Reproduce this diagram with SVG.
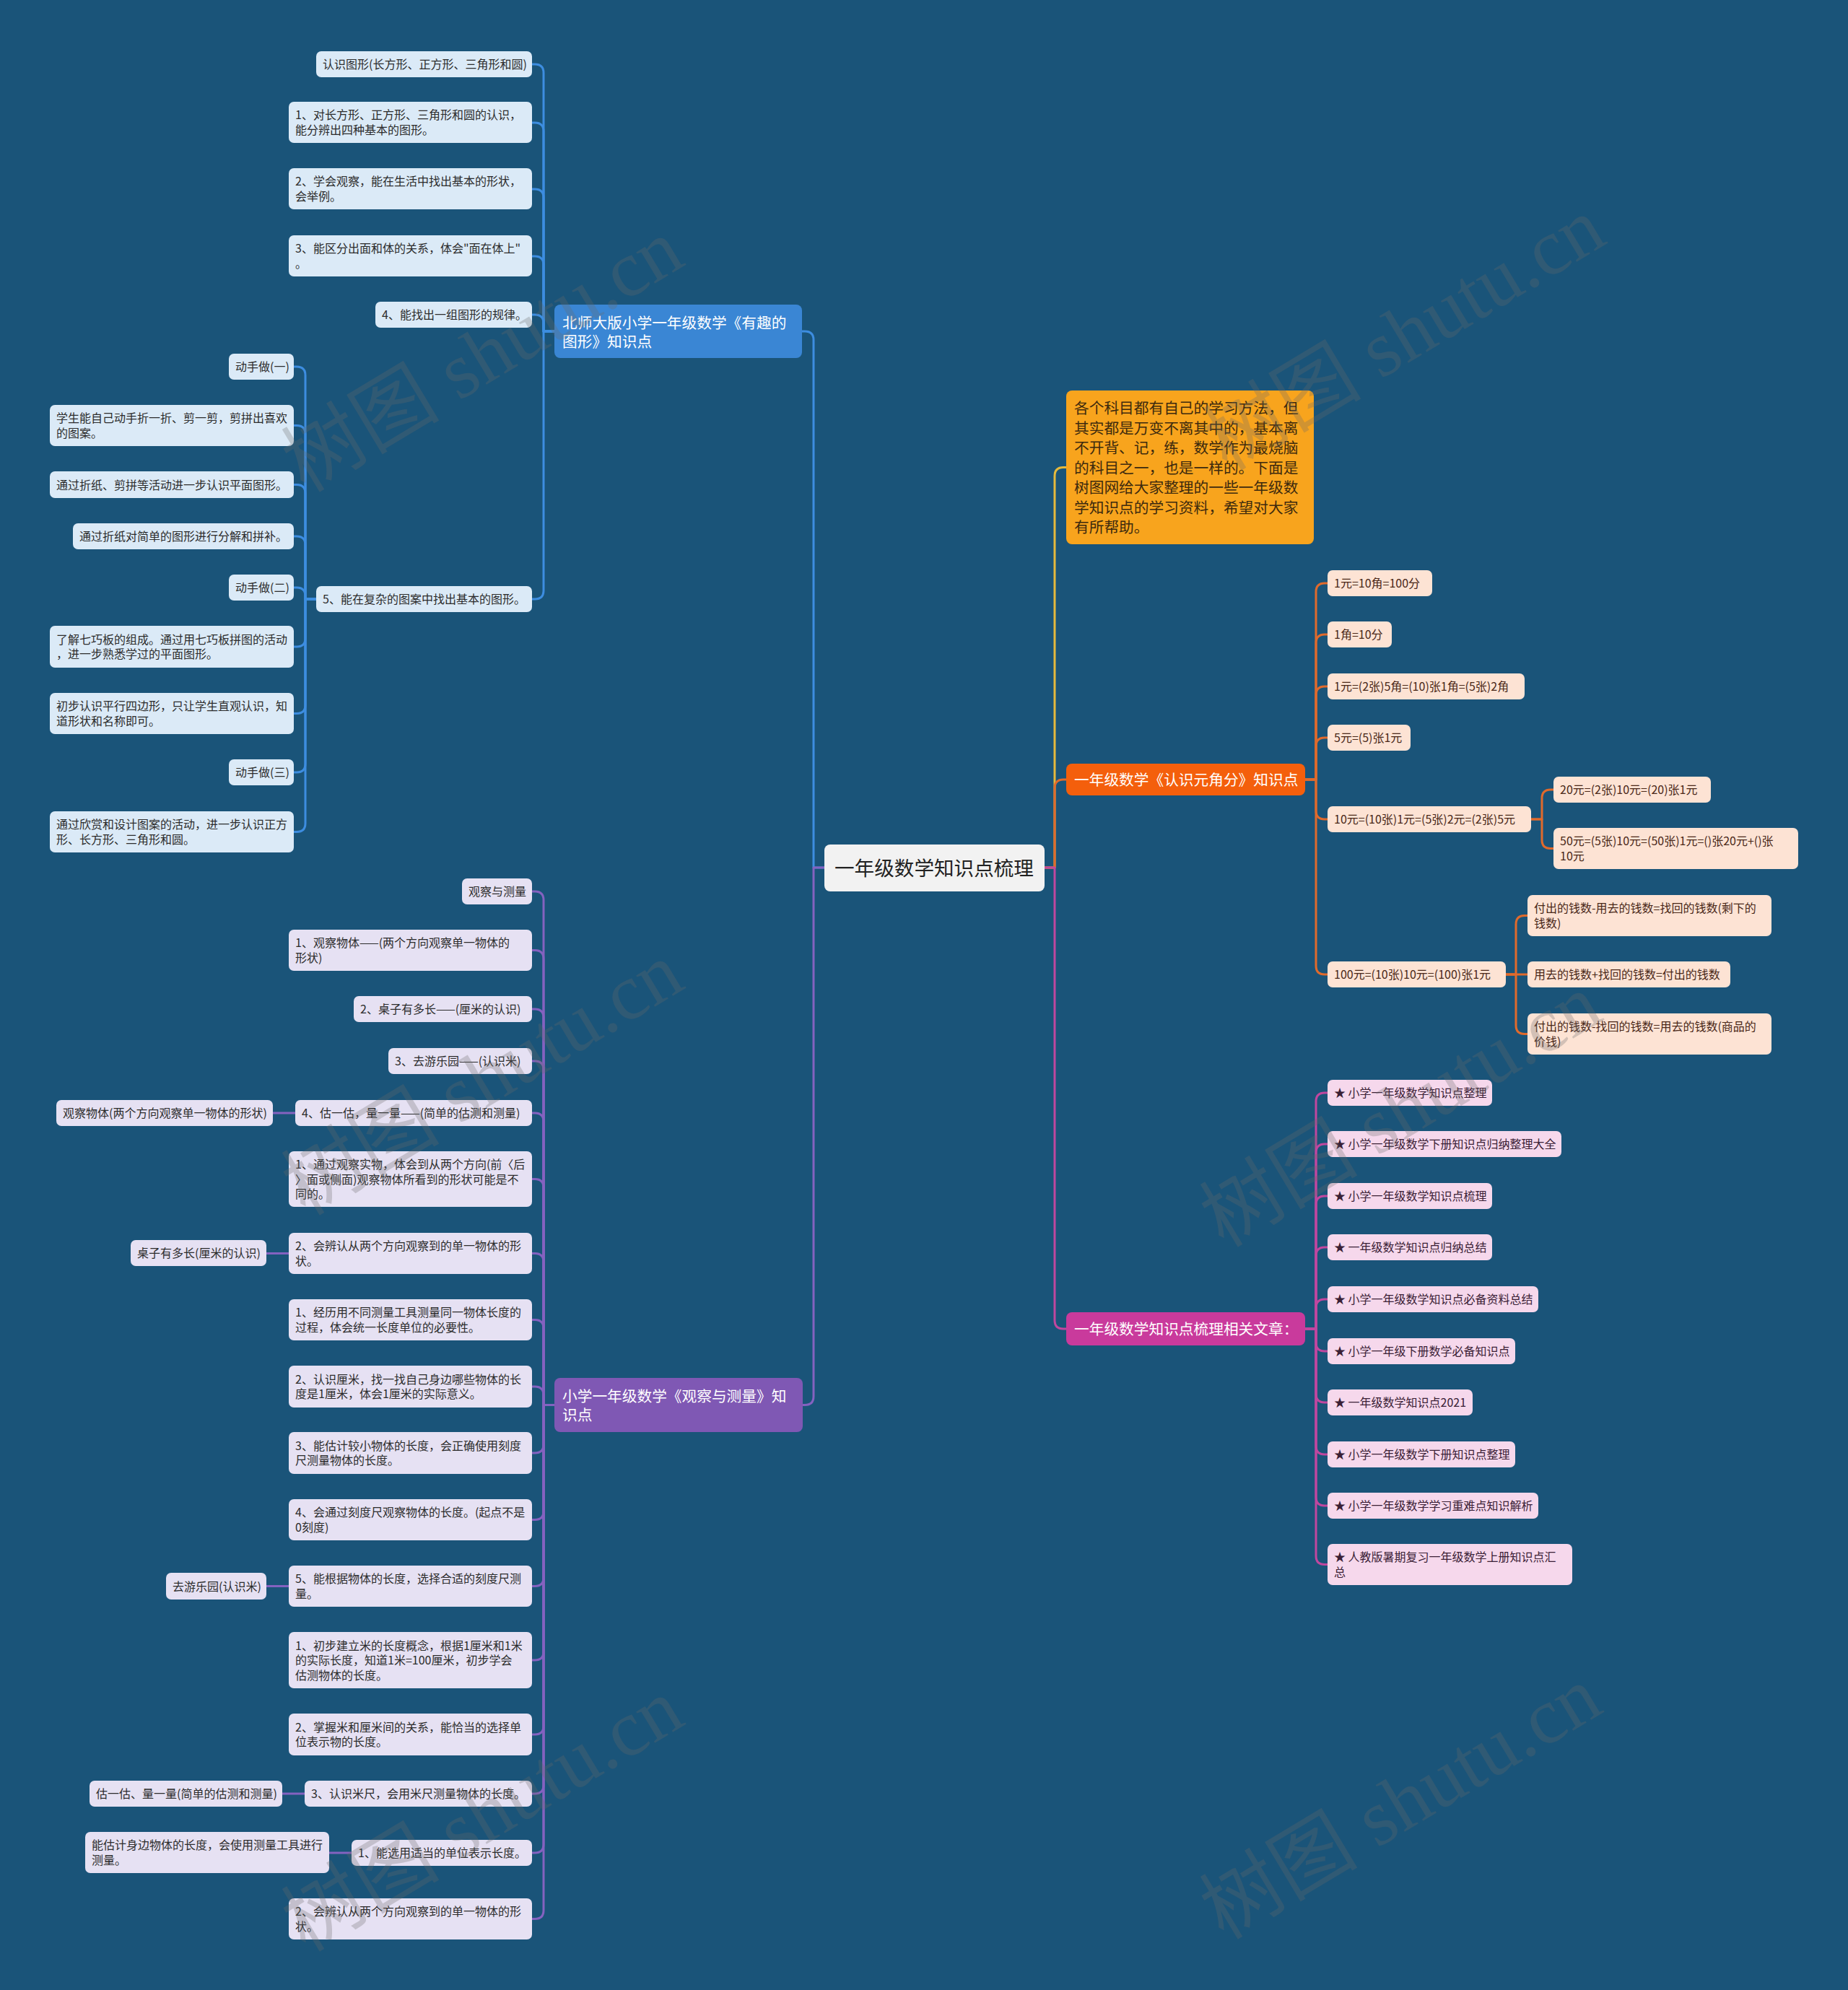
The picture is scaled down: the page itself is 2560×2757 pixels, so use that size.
<svg xmlns="http://www.w3.org/2000/svg" width="2560" height="2757" viewBox="0 0 2560 2757">
<style>
text{font-family:"Noto Sans CJK SC","Microsoft YaHei","Liberation Sans",sans-serif;}
.s{font-size:16px;}
.tp{font-size:20.7px;fill:#ffffff;}
.cl{fill:none;stroke-width:3;stroke-linecap:round;stroke-linejoin:round;}
.cb{stroke:#3d8de0;}
.cp{stroke:#8462c0;}
.cy{stroke:#e5b93c;}
.co{stroke:#e06a2c;}
.cm{stroke:#c0479f;}
.fb{fill:#dbeaf7;}
.fp{fill:#e6e1f3;}
.fo{fill:#fde3d4;}
.fm{fill:#f6d8ec;}
.tb{fill:#2c2c2c;}
.to{fill:#4a2818;}
.tm{fill:#3a2035;}
.wm{font-family:"Liberation Serif","Noto Sans CJK SC",serif;font-size:110px;fill:#6a6a6a;opacity:0.28;}
</style>
<rect x="0" y="0" width="2560" height="2757" fill="#1a5479"/>

<g id="connectors">
<path class="cl cb" d="M1142 1202 H1127 V471 Q1127 459 1115 459 H1111"/>
<path class="cl cb" d="M768 459 H753 V101 Q753 89 741 89 H737"/>
<path class="cl cb" d="M768 459 H753 V182 Q753 170 741 170 H737"/>
<path class="cl cb" d="M768 459 H753 V274 Q753 262 741 262 H737"/>
<path class="cl cb" d="M768 459 H753 V367 Q753 355 741 355 H737"/>
<path class="cl cb" d="M768 459 H753 V448 Q753 436 741 436 H737"/>
<path class="cl cb" d="M768 459 H753 V818 Q753 830 741 830 H737"/>
<path class="cl cb" d="M438 830 H423 V520 Q423 508 411 508 H407"/>
<path class="cl cb" d="M438 830 H423 V601.5 Q423 589.5 411 589.5 H407"/>
<path class="cl cb" d="M438 830 H423 V683.5 Q423 671.5 411 671.5 H407"/>
<path class="cl cb" d="M438 830 H423 V755 Q423 743 411 743 H407"/>
<path class="cl cb" d="M438 830 H423 V826 Q423 814 411 814 H407"/>
<path class="cl cb" d="M438 830 H423 V884 Q423 896 411 896 H407"/>
<path class="cl cb" d="M438 830 H423 V976.5 Q423 988.5 411 988.5 H407"/>
<path class="cl cb" d="M438 830 H423 V1058 Q423 1070 411 1070 H407"/>
<path class="cl cb" d="M438 830 H423 V1140.5 Q423 1152.5 411 1152.5 H407"/>
<path class="cl cp" d="M1142 1202 H1127 V1934.5 Q1127 1946.5 1115 1946.5 H1112"/>
<path class="cl cp" d="M768 1946.5 H753 V1247 Q753 1235 741 1235 H737"/>
<path class="cl cp" d="M768 1946.5 H753 V1328.5 Q753 1316.5 741 1316.5 H737"/>
<path class="cl cp" d="M768 1946.5 H753 V1410 Q753 1398 741 1398 H737"/>
<path class="cl cp" d="M768 1946.5 H753 V1482 Q753 1470 741 1470 H737"/>
<path class="cl cp" d="M768 1946.5 H753 V1554 Q753 1542 741 1542 H737"/>
<path class="cl cp" d="M768 1946.5 H753 V1645.5 Q753 1633.5 741 1633.5 H737"/>
<path class="cl cp" d="M768 1946.5 H753 V1748.5 Q753 1736.5 741 1736.5 H737"/>
<path class="cl cp" d="M768 1946.5 H753 V1840.5 Q753 1828.5 741 1828.5 H737"/>
<path class="cl cp" d="M768 1946.5 H753 V1933 Q753 1921 741 1921 H737"/>
<path class="cl cp" d="M768 1946.5 H753 V2001 Q753 2013 741 2013 H737"/>
<path class="cl cp" d="M768 1946.5 H753 V2093.5 Q753 2105.5 741 2105.5 H737"/>
<path class="cl cp" d="M768 1946.5 H753 V2185.5 Q753 2197.5 741 2197.5 H737"/>
<path class="cl cp" d="M768 1946.5 H753 V2288 Q753 2300 741 2300 H737"/>
<path class="cl cp" d="M768 1946.5 H753 V2391 Q753 2403 741 2403 H737"/>
<path class="cl cp" d="M768 1946.5 H753 V2473 Q753 2485 741 2485 H737"/>
<path class="cl cp" d="M768 1946.5 H753 V2555 Q753 2567 741 2567 H737"/>
<path class="cl cp" d="M768 1946.5 H753 V2646.5 Q753 2658.5 741 2658.5 H737"/>
<path class="cl cp" d="M409 1542 H378"/>
<path class="cl cp" d="M400 1736.5 H369"/>
<path class="cl cp" d="M400 2197.5 H369"/>
<path class="cl cp" d="M422 2485 H391"/>
<path class="cl cp" d="M487 2567 H456"/>
<path class="cl cy" d="M1447 1202 H1461 V659.5 Q1461 647.5 1473 647.5 H1477"/>
<path class="cl co" d="M1447 1202 H1461 V1092 Q1461 1080 1473 1080 H1477"/>
<path class="cl co" d="M1808 1080 H1823 V820 Q1823 808 1835 808 H1839"/>
<path class="cl co" d="M1808 1080 H1823 V891 Q1823 879 1835 879 H1839"/>
<path class="cl co" d="M1808 1080 H1823 V963 Q1823 951 1835 951 H1839"/>
<path class="cl co" d="M1808 1080 H1823 V1034 Q1823 1022 1835 1022 H1839"/>
<path class="cl co" d="M1808 1080 H1823 V1123 Q1823 1135 1835 1135 H1839"/>
<path class="cl co" d="M1808 1080 H1823 V1338 Q1823 1350 1835 1350 H1839"/>
<path class="cl co" d="M2121 1135 H2136 V1106 Q2136 1094 2148 1094 H2152"/>
<path class="cl co" d="M2121 1135 H2136 V1163.5 Q2136 1175.5 2148 1175.5 H2152"/>
<path class="cl co" d="M2086 1350 H2100 V1280.5 Q2100 1268.5 2112 1268.5 H2116"/>
<path class="cl co" d="M2086 1350 H2116"/>
<path class="cl co" d="M2086 1350 H2100 V1420.5 Q2100 1432.5 2112 1432.5 H2116"/>
<path class="cl cm" d="M1447 1202 H1461 V1829 Q1461 1841 1473 1841 H1477"/>
<path class="cl cm" d="M1808 1841 H1823 V1526 Q1823 1514 1835 1514 H1839"/>
<path class="cl cm" d="M1808 1841 H1823 V1597 Q1823 1585 1835 1585 H1839"/>
<path class="cl cm" d="M1808 1841 H1823 V1669 Q1823 1657 1835 1657 H1839"/>
<path class="cl cm" d="M1808 1841 H1823 V1740 Q1823 1728 1835 1728 H1839"/>
<path class="cl cm" d="M1808 1841 H1823 V1812 Q1823 1800 1835 1800 H1839"/>
<path class="cl cm" d="M1808 1841 H1823 V1860 Q1823 1872 1835 1872 H1839"/>
<path class="cl cm" d="M1808 1841 H1823 V1931 Q1823 1943 1835 1943 H1839"/>
<path class="cl cm" d="M1808 1841 H1823 V2003 Q1823 2015 1835 2015 H1839"/>
<path class="cl cm" d="M1808 1841 H1823 V2074 Q1823 2086 1835 2086 H1839"/>
<path class="cl cm" d="M1808 1841 H1823 V2155.5 Q1823 2167.5 1835 2167.5 H1839"/>
</g>

<g id="central">
<rect x="1142" y="1170" width="305" height="65" rx="8" fill="#f2f2f2"/>
<text x="1156" y="1213" style="font-size:27.6px" fill="#222">一年级数学知识点梳理</text>
</g>

<g id="topic1">
<rect x="768" y="422" width="343" height="74" rx="8" fill="#3a86d4"/>
<text class="tp" x="779" y="454.5">北师大版小学一年级数学《有趣的</text>
<text class="tp" x="779" y="480.5">图形》知识点</text>
</g>
<g id="c1"><rect class="fb" x="438" y="71" width="299" height="36" rx="7"/><text class="s tb" x="447" y="95">认识图形(长方形、正方形、三角形和圆)</text></g>
<g id="c2"><rect class="fb" x="400" y="141" width="337" height="57" rx="7"/><text class="s tb" x="409" y="165">1、对长方形、正方形、三角形和圆的认识，</text><text class="s tb" x="409" y="186">能分辨出四种基本的图形。</text></g>
<g id="c3"><rect class="fb" x="400" y="233" width="337" height="57" rx="7"/><text class="s tb" x="409" y="257">2、学会观察，能在生活中找出基本的形状，</text><text class="s tb" x="409" y="278">会举例。</text></g>
<g id="c4"><rect class="fb" x="400" y="326" width="337" height="57" rx="7"/><text class="s tb" x="409" y="350">3、能区分出面和体的关系，体会"面在体上"</text><text class="s tb" x="409" y="371">。</text></g>
<g id="c5"><rect class="fb" x="520" y="418" width="217" height="36" rx="7"/><text class="s tb" x="529" y="442">4、能找出一组图形的规律。</text></g>
<g id="c6"><rect class="fb" x="438" y="812" width="299" height="36" rx="7"/><text class="s tb" x="447" y="836">5、能在复杂的图案中找出基本的图形。</text></g>
<g id="g1"><rect class="fb" x="317" y="490" width="90" height="36" rx="7"/><text class="s tb" x="326" y="514">动手做(一)</text></g>
<g id="g2"><rect class="fb" x="69" y="561" width="338" height="57" rx="7"/><text class="s tb" x="78" y="585">学生能自己动手折一折、剪一剪，剪拼出喜欢</text><text class="s tb" x="78" y="606">的图案。</text></g>
<g id="g3"><rect class="fb" x="69" y="653" width="338" height="37" rx="7"/><text class="s tb" x="78" y="677.5">通过折纸、剪拼等活动进一步认识平面图形。</text></g>
<g id="g4"><rect class="fb" x="101" y="725" width="306" height="36" rx="7"/><text class="s tb" x="110" y="749">通过折纸对简单的图形进行分解和拼补。</text></g>
<g id="g5"><rect class="fb" x="317" y="796" width="90" height="36" rx="7"/><text class="s tb" x="326" y="820">动手做(二)</text></g>
<g id="g6"><rect class="fb" x="69" y="867" width="338" height="58" rx="7"/><text class="s tb" x="78" y="891.5">了解七巧板的组成。通过用七巧板拼图的活动</text><text class="s tb" x="78" y="912">，进一步熟悉学过的平面图形。</text></g>
<g id="g7"><rect class="fb" x="69" y="960" width="338" height="57" rx="7"/><text class="s tb" x="78" y="984">初步认识平行四边形，只让学生直观认识，知</text><text class="s tb" x="78" y="1005">道形状和名称即可。</text></g>
<g id="g8"><rect class="fb" x="317" y="1052" width="90" height="36" rx="7"/><text class="s tb" x="326" y="1076">动手做(三)</text></g>
<g id="g9"><rect class="fb" x="69" y="1124" width="338" height="57" rx="7"/><text class="s tb" x="78" y="1148">通过欣赏和设计图案的活动，进一步认识正方</text><text class="s tb" x="78" y="1169">形、长方形、三角形和圆。</text></g>

<g id="topic2">
<rect x="768" y="1909" width="344" height="75" rx="8" fill="#7f58b4"/>
<text class="tp" x="779" y="1941.5">小学一年级数学《观察与测量》知</text>
<text class="tp" x="779" y="1967.5">识点</text>
</g>
<g id="h1"><rect class="fp" x="640" y="1217" width="97" height="36" rx="7"/><text class="s tb" x="649" y="1241">观察与测量</text></g>
<g id="h2"><rect class="fp" x="400" y="1288" width="337" height="57" rx="7"/><text class="s tb" x="409" y="1312">1、观察物体——(两个方向观察单一物体的</text><text class="s tb" x="409" y="1333">形状)</text></g>
<g id="h3"><rect class="fp" x="490" y="1380" width="247" height="36" rx="7"/><text class="s tb" x="499" y="1404">2、桌子有多长——(厘米的认识)</text></g>
<g id="h4"><rect class="fp" x="538" y="1452" width="199" height="36" rx="7"/><text class="s tb" x="547" y="1476">3、去游乐园——(认识米)</text></g>
<g id="h5"><rect class="fp" x="409" y="1524" width="328" height="36" rx="7"/><text class="s tb" x="418" y="1548">4、估一估，量一量——(简单的估测和测量)</text></g>
<g id="h5c"><rect class="fp" x="78" y="1524" width="300" height="36" rx="7"/><text class="s tb" x="87" y="1548">观察物体(两个方向观察单一物体的形状)</text></g>
<g id="h6"><rect class="fp" x="400" y="1595" width="337" height="77" rx="7"/><text class="s tb" x="409" y="1619">1、通过观察实物，体会到从两个方向(前〈后</text><text class="s tb" x="409" y="1639.5">〉面或侧面)观察物体所看到的形状可能是不</text><text class="s tb" x="409" y="1660">同的。</text></g>
<g id="h7"><rect class="fp" x="400" y="1708" width="337" height="57" rx="7"/><text class="s tb" x="409" y="1732">2、会辨认从两个方向观察到的单一物体的形</text><text class="s tb" x="409" y="1753">状。</text></g>
<g id="h7c"><rect class="fp" x="181" y="1718" width="188" height="36" rx="7"/><text class="s tb" x="190" y="1742">桌子有多长(厘米的认识)</text></g>
<g id="h8"><rect class="fp" x="400" y="1800" width="337" height="57" rx="7"/><text class="s tb" x="409" y="1824">1、经历用不同测量工具测量同一物体长度的</text><text class="s tb" x="409" y="1845">过程，体会统一长度单位的必要性。</text></g>
<g id="h9"><rect class="fp" x="400" y="1892" width="337" height="58" rx="7"/><text class="s tb" x="409" y="1916.5">2、认识厘米，找一找自己身边哪些物体的长</text><text class="s tb" x="409" y="1937">度是1厘米，体会1厘米的实际意义。</text></g>
<g id="h10"><rect class="fp" x="400" y="1984" width="337" height="58" rx="7"/><text class="s tb" x="409" y="2008.5">3、能估计较小物体的长度，会正确使用刻度</text><text class="s tb" x="409" y="2029">尺测量物体的长度。</text></g>
<g id="h11"><rect class="fp" x="400" y="2077" width="337" height="57" rx="7"/><text class="s tb" x="409" y="2101">4、会通过刻度尺观察物体的长度。(起点不是</text><text class="s tb" x="409" y="2122">0刻度)</text></g>
<g id="h12"><rect class="fp" x="400" y="2169" width="337" height="57" rx="7"/><text class="s tb" x="409" y="2193">5、能根据物体的长度，选择合适的刻度尺测</text><text class="s tb" x="409" y="2214">量。</text></g>
<g id="h12c"><rect class="fp" x="230" y="2179" width="139" height="37" rx="7"/><text class="s tb" x="239" y="2203.5">去游乐园(认识米)</text></g>
<g id="h13"><rect class="fp" x="400" y="2261" width="337" height="78" rx="7"/><text class="s tb" x="409" y="2285.5">1、初步建立米的长度概念，根据1厘米和1米</text><text class="s tb" x="409" y="2306">的实际长度，知道1米=100厘米，初步学会</text><text class="s tb" x="409" y="2326.5">估测物体的长度。</text></g>
<g id="h14"><rect class="fp" x="400" y="2374" width="337" height="58" rx="7"/><text class="s tb" x="409" y="2398.5">2、掌握米和厘米间的关系，能恰当的选择单</text><text class="s tb" x="409" y="2419">位表示物的长度。</text></g>
<g id="h15"><rect class="fp" x="422" y="2467" width="315" height="36" rx="7"/><text class="s tb" x="431" y="2491">3、认识米尺，会用米尺测量物体的长度。</text></g>
<g id="h15c"><rect class="fp" x="124" y="2467" width="267" height="36" rx="7"/><text class="s tb" x="133" y="2491">估一估、量一量(简单的估测和测量)</text></g>
<g id="h16"><rect class="fp" x="487" y="2549" width="250" height="36" rx="7"/><text class="s tb" x="496" y="2573">1、能选用适当的单位表示长度。</text></g>
<g id="h16c"><rect class="fp" x="118" y="2538" width="338" height="57" rx="7"/><text class="s tb" x="127" y="2562">能估计身边物体的长度，会使用测量工具进行</text><text class="s tb" x="127" y="2583">测量。</text></g>
<g id="h17"><rect class="fp" x="400" y="2630" width="337" height="57" rx="7"/><text class="s tb" x="409" y="2654">2、会辨认从两个方向观察到的单一物体的形</text><text class="s tb" x="409" y="2675">状。</text></g>

<g id="intro">
<rect x="1477" y="541" width="343" height="213" rx="8" fill="#f8a41d"/>
<text style="font-size:20.7px" fill="#3d2a0e" x="1488" y="573">各个科目都有自己的学习方法，但</text>
<text style="font-size:20.7px" fill="#3d2a0e" x="1488" y="600.5">其实都是万变不离其中的，基本离</text>
<text style="font-size:20.7px" fill="#3d2a0e" x="1488" y="628">不开背、记，练，数学作为最烧脑</text>
<text style="font-size:20.7px" fill="#3d2a0e" x="1488" y="655.5">的科目之一，也是一样的。下面是</text>
<text style="font-size:20.7px" fill="#3d2a0e" x="1488" y="683">树图网给大家整理的一些一年级数</text>
<text style="font-size:20.7px" fill="#3d2a0e" x="1488" y="710.5">学知识点的学习资料，希望对大家</text>
<text style="font-size:20.7px" fill="#3d2a0e" x="1488" y="738">有所帮助。</text>
</g>

<g id="topic3"><rect x="1477" y="1058" width="331" height="44" rx="8" fill="#f45f0c"/><text class="tp" x="1488" y="1088">一年级数学《认识元角分》知识点</text></g>
<g id="m1"><rect class="fo" x="1839" y="790" width="145" height="36" rx="7"/><text class="s to" x="1848" y="814">1元=10角=100分</text></g>
<g id="m2"><rect class="fo" x="1839" y="861" width="89" height="36" rx="7"/><text class="s to" x="1848" y="885">1角=10分</text></g>
<g id="m3"><rect class="fo" x="1839" y="933" width="273" height="36" rx="7"/><text class="s to" x="1848" y="957">1元=(2张)5角=(10)张1角=(5张)2角</text></g>
<g id="m4"><rect class="fo" x="1839" y="1004" width="115" height="36" rx="7"/><text class="s to" x="1848" y="1028">5元=(5)张1元</text></g>
<g id="m5"><rect class="fo" x="1839" y="1117" width="282" height="36" rx="7"/><text class="s to" x="1848" y="1141">10元=(10张)1元=(5张)2元=(2张)5元</text></g>
<g id="m5a"><rect class="fo" x="2152" y="1076" width="218" height="36" rx="7"/><text class="s to" x="2161" y="1100">20元=(2张)10元=(20)张1元</text></g>
<g id="m5b"><rect class="fo" x="2152" y="1147" width="339" height="57" rx="7"/><text class="s to" x="2161" y="1171">50元=(5张)10元=(50张)1元=()张20元+()张</text><text class="s to" x="2161" y="1192">10元</text></g>
<g id="m6"><rect class="fo" x="1839" y="1332" width="247" height="36" rx="7"/><text class="s to" x="1848" y="1356">100元=(10张)10元=(100)张1元</text></g>
<g id="m6a"><rect class="fo" x="2116" y="1240" width="338" height="57" rx="7"/><text class="s to" x="2125" y="1264">付出的钱数-用去的钱数=找回的钱数(剩下的</text><text class="s to" x="2125" y="1285">钱数)</text></g>
<g id="m6b"><rect class="fo" x="2116" y="1332" width="281" height="36" rx="7"/><text class="s to" x="2125" y="1356">用去的钱数+找回的钱数=付出的钱数</text></g>
<g id="m6c"><rect class="fo" x="2116" y="1404" width="338" height="57" rx="7"/><text class="s to" x="2125" y="1428">付出的钱数-找回的钱数=用去的钱数(商品的</text><text class="s to" x="2125" y="1449">价钱)</text></g>

<g id="topic4"><rect x="1477" y="1818" width="331" height="46" rx="8" fill="#c93a9c"/><text class="tp" x="1488" y="1849">一年级数学知识点梳理相关文章：</text></g>
<g id="r1"><rect class="fm" x="1839" y="1496" width="228" height="36" rx="7"/><text class="s tm" x="1848" y="1520">★ 小学一年级数学知识点整理</text></g>
<g id="r2"><rect class="fm" x="1839" y="1567" width="324" height="36" rx="7"/><text class="s tm" x="1848" y="1591">★ 小学一年级数学下册知识点归纳整理大全</text></g>
<g id="r3"><rect class="fm" x="1839" y="1639" width="228" height="36" rx="7"/><text class="s tm" x="1848" y="1663">★ 小学一年级数学知识点梳理</text></g>
<g id="r4"><rect class="fm" x="1839" y="1710" width="228" height="36" rx="7"/><text class="s tm" x="1848" y="1734">★ 一年级数学知识点归纳总结</text></g>
<g id="r5"><rect class="fm" x="1839" y="1782" width="292" height="36" rx="7"/><text class="s tm" x="1848" y="1806">★ 小学一年级数学知识点必备资料总结</text></g>
<g id="r6"><rect class="fm" x="1839" y="1854" width="260" height="36" rx="7"/><text class="s tm" x="1848" y="1878">★ 小学一年级下册数学必备知识点</text></g>
<g id="r7"><rect class="fm" x="1839" y="1925" width="201" height="36" rx="7"/><text class="s tm" x="1848" y="1949">★ 一年级数学知识点2021</text></g>
<g id="r8"><rect class="fm" x="1839" y="1997" width="260" height="36" rx="7"/><text class="s tm" x="1848" y="2021">★ 小学一年级数学下册知识点整理</text></g>
<g id="r9"><rect class="fm" x="1839" y="2068" width="292" height="36" rx="7"/><text class="s tm" x="1848" y="2092">★ 小学一年级数学学习重难点知识解析</text></g>
<g id="r10"><rect class="fm" x="1839" y="2139" width="339" height="57" rx="7"/><text class="s tm" x="1848" y="2163">★ 人教版暑期复习一年级数学上册知识点汇</text><text class="s tm" x="1848" y="2184">总</text></g>

<g id="watermark">
<text class="wm" x="668" y="530" text-anchor="middle" transform="rotate(-31 668 492)">树图 shutu.cn</text>
<text class="wm" x="1945" y="500" text-anchor="middle" transform="rotate(-31 1945 462)">树图 shutu.cn</text>
<text class="wm" x="668" y="1532" text-anchor="middle" transform="rotate(-31 668 1494)">树图 shutu.cn</text>
<text class="wm" x="1940" y="1576" text-anchor="middle" transform="rotate(-31 1940 1538)">树图 shutu.cn</text>
<text class="wm" x="668" y="2552" text-anchor="middle" transform="rotate(-31 668 2514)">树图 shutu.cn</text>
<text class="wm" x="1940" y="2535" text-anchor="middle" transform="rotate(-31 1940 2497)">树图 shutu.cn</text>
</g>
</svg>
